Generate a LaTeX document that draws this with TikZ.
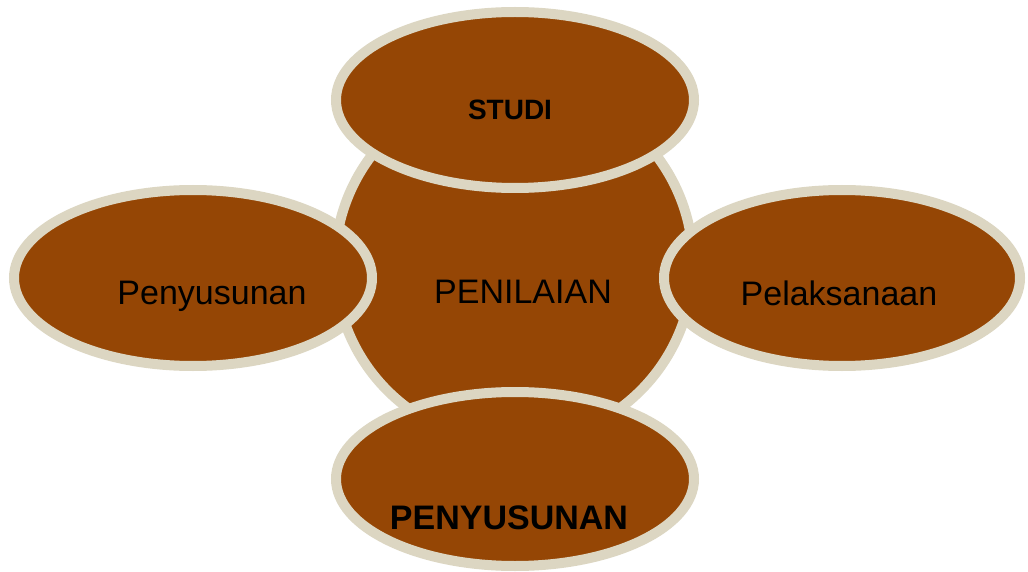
\documentclass[tikz,border=0pt]{standalone}
\usepackage{fontspec}
\setmainfont{Liberation Sans}
\definecolor{brownfill}{HTML}{954605}
\definecolor{beigeedge}{HTML}{DCD6C2}
\tikzset{
  blob/.style={fill=brownfill, draw=beigeedge, line width=10pt},
  lbl/.style={anchor=base, inner sep=0pt, text=black, font=\fontsize{34}{40}\selectfont},
  lblbold/.style={lbl, font=\fontsize{34}{40}\selectfont\bfseries},
}
\begin{document}
\begin{tikzpicture}[x=1pt,y=-1pt]
\useasboundingbox (0,0) rectangle (1028,572);
% central circle
\draw[blob] (514,264) circle[radius=179];
% satellites
\draw[blob] (515,100) ellipse[x radius=179, y radius=88];
\draw[blob] (515,479) ellipse[x radius=179, y radius=87];
\draw[blob] (193,278) ellipse[x radius=179, y radius=88];
\draw[blob] (842,278) ellipse[x radius=178, y radius=88];
% labels
\node[lbl] (center) at (523,303) {PENILAIAN};
\node[lbl] (left) at (212,304) {Penyusunan};
\node[lbl] (right) at (839,305) {Pelaksanaan};
\node[lblbold, font=\fontsize{28}{34}\selectfont\bfseries] (top) at (510,120) {STUDI};
\node[lblbold] (bottom) at (509,529) {PENYUSUNAN};
\end{tikzpicture}
\end{document}
